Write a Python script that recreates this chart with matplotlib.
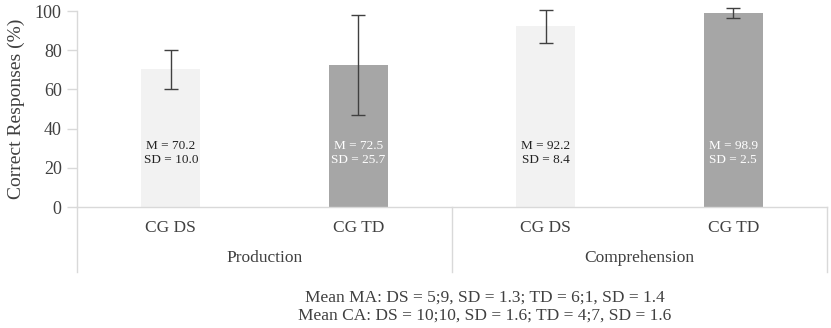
import matplotlib
matplotlib.use("Agg")
import matplotlib.pyplot as plt
import matplotlib.transforms as mtransforms

plt.rcParams['font.family'] = ['Liberation Serif', 'DejaVu Serif']

categories = ["CG DS", "CG TD", "CG DS", "CG TD"]
groups = ["Production", "Comprehension"]
means = [70.2, 72.5, 92.2, 98.9]
sds = [10.0, 25.7, 8.4, 2.5]
bar_colors = ["#f2f2f2", "#a6a6a6", "#f2f2f2", "#a6a6a6"]
label_colors = ["#222222", "#ffffff", "#222222", "#ffffff"]
yticks = [0, 20, 40, 60, 80, 100]
footnote = ["Mean MA: DS = 5;9, SD = 1.3; TD = 6;1, SD = 1.4",
            "Mean CA: DS = 10;10, SD = 1.6; TD = 4;7, SD = 1.6"]

W, H = 831, 328
fig = plt.figure(figsize=(W / 100, H / 100), dpi=100)
ax = fig.add_axes([77 / W, (H - 207) / H, 750 / W, 196 / H])

x = list(range(len(categories)))
ax.bar(x, means, width=0.315, color=bar_colors, zorder=2)
ax.errorbar(x, means, yerr=sds, fmt='none', ecolor='#404040', elinewidth=1.0,
            capsize=5, capthick=1.0, zorder=3, clip_on=False)

for xi, m, s, c in zip(x, means, sds, label_colors):
    ax.text(xi, 27.5, f"M = {m:.1f}\nSD = {s:.1f}", ha='center', va='center',
            fontsize=9.5, color=c, linespacing=1.2, zorder=4)

ax.set_xlim(-0.5, len(categories) - 0.5)
ax.set_ylim(0, 100)
ax.set_yticks(yticks)
ax.set_yticklabels([str(t) for t in yticks], fontsize=13, color='#404040')
ax.set_xticks([])
ax.tick_params(axis='y', length=7, width=1, color='#d9d9d9', pad=4)
for sp in ['top', 'right']:
    ax.spines[sp].set_visible(False)
for sp in ['left', 'bottom']:
    ax.spines[sp].set_color('#d9d9d9')
    ax.spines[sp].set_linewidth(1)

ax.set_ylabel("Correct Responses (%)", fontsize=14, color='#404040')
ax.yaxis.set_label_coords(-52 / 750, 0.5)

trans = mtransforms.blended_transform_factory(ax.transData, ax.transAxes)
for xs in [-0.5, 1.5, 3.5]:
    ax.plot([xs, xs], [0, -0.33], color='#d9d9d9', lw=1, transform=trans, clip_on=False)

for xi, cat in zip(x, categories):
    ax.text(xi, -0.107, cat, ha='center', va='center', fontsize=12.5,
            color='#404040', transform=trans)
for gi, g in enumerate(groups):
    ax.text(gi * 2 + 0.5, -0.26, g, ha='center', va='center', fontsize=12.5,
            color='#404040', transform=trans)

fig.text(485 / W, 1 - 298 / H, footnote[0], ha='center', va='center',
         fontsize=12.5, color='#404040')
fig.text(485 / W, 1 - 316 / H, footnote[1], ha='center', va='center',
         fontsize=12.5, color='#404040')

fig.savefig("out.png", dpi=100)
